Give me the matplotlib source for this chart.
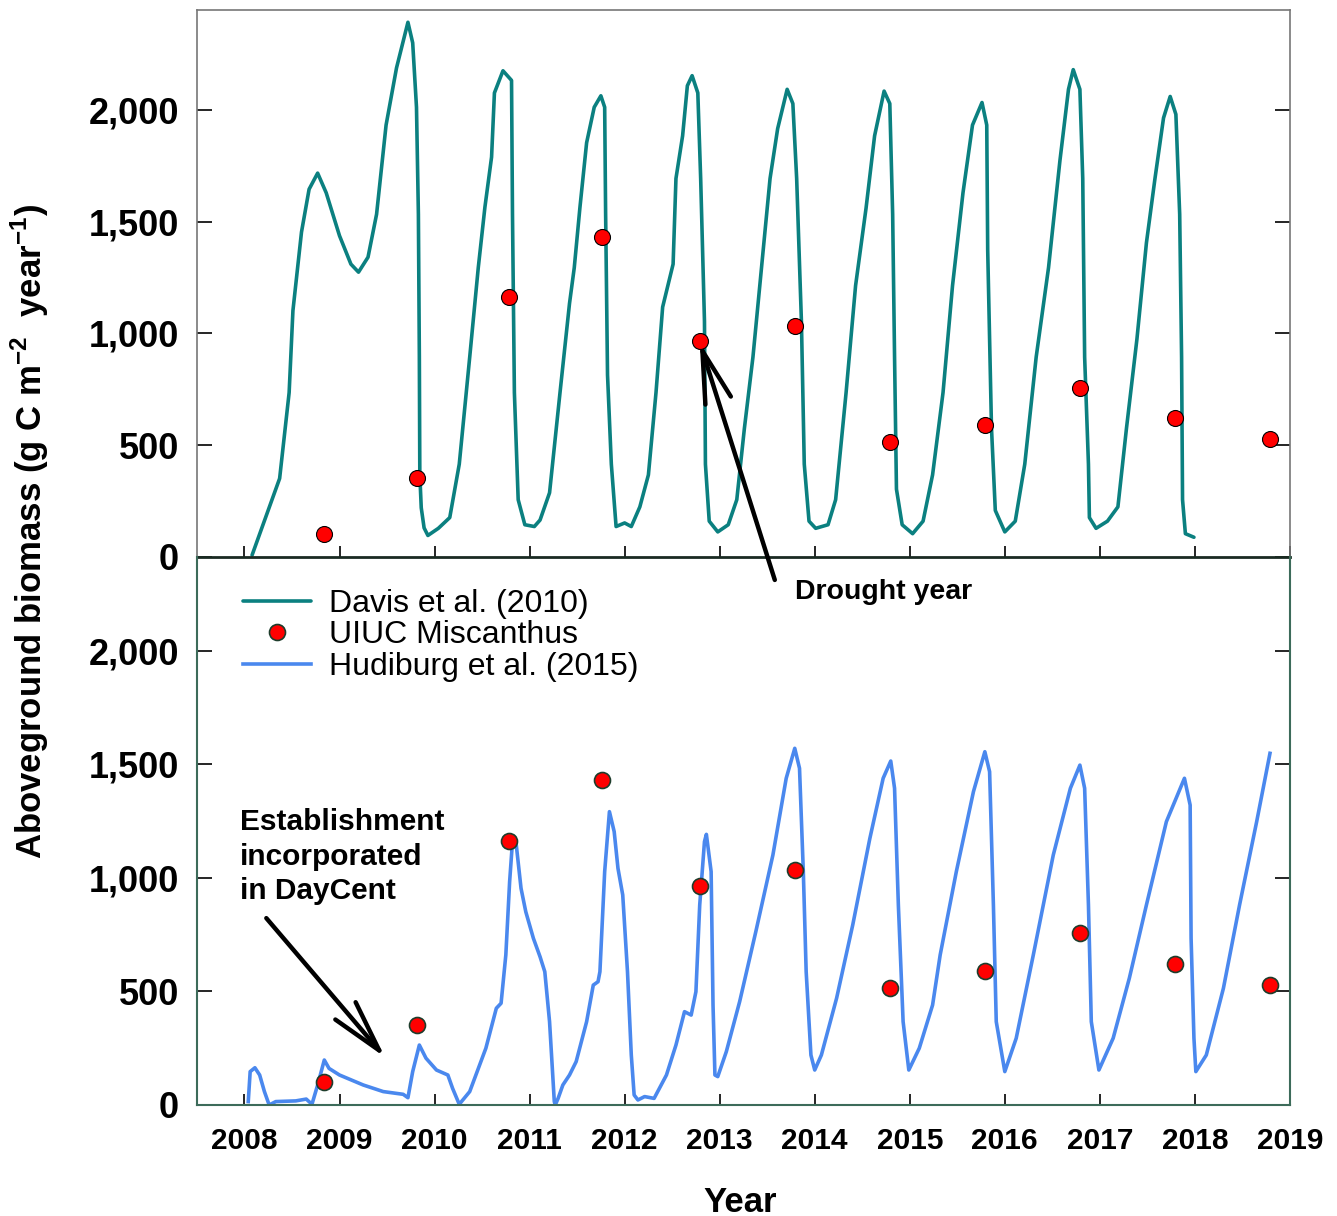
import matplotlib
matplotlib.use("Agg")
import matplotlib.pyplot as plt
from matplotlib.ticker import FuncFormatter

plt.rcParams['font.family'] = ['Liberation Sans', 'DejaVu Sans']
plt.rcParams['mathtext.fontset'] = 'custom'
plt.rcParams['mathtext.rm'] = 'Liberation Sans'
plt.rcParams['mathtext.bf'] = 'Liberation Sans:bold'

# Davis et al. (2010) simulated aboveground biomass
davis_year = [2008.08, 2008.37, 2008.47, 2008.51, 2008.60, 2008.68, 2008.77, 2008.86, 2009.00, 2009.12,
              2009.20, 2009.30, 2009.39, 2009.49, 2009.60, 2009.72, 2009.77, 2009.81, 2009.83, 2009.84,
              2009.845, 2009.86, 2009.89, 2009.93, 2010.04, 2010.16, 2010.26, 2010.37, 2010.46, 2010.53,
              2010.60, 2010.63, 2010.72, 2010.81, 2010.82, 2010.84, 2010.88, 2010.95, 2011.05, 2011.11,
              2011.21, 2011.32, 2011.42, 2011.47, 2011.53, 2011.60, 2011.68, 2011.75, 2011.79, 2011.80,
              2011.82, 2011.86, 2011.91, 2012.00, 2012.07, 2012.16, 2012.25, 2012.33, 2012.40, 2012.51,
              2012.54, 2012.61, 2012.66, 2012.71, 2012.77, 2012.80, 2012.84, 2012.85, 2012.89, 2012.98,
              2013.09, 2013.18, 2013.26, 2013.35, 2013.44, 2013.53, 2013.61, 2013.71, 2013.77, 2013.81,
              2013.86, 2013.89, 2013.94, 2014.01, 2014.14, 2014.22, 2014.33, 2014.43, 2014.54, 2014.63,
              2014.73, 2014.79, 2014.82, 2014.84, 2014.86, 2014.92, 2015.03, 2015.14, 2015.24, 2015.35,
              2015.45, 2015.56, 2015.66, 2015.76, 2015.81, 2015.82, 2015.86, 2015.90, 2016.00, 2016.11,
              2016.21, 2016.33, 2016.46, 2016.58, 2016.67, 2016.72, 2016.79, 2016.82, 2016.84, 2016.88,
              2016.89, 2016.96, 2017.08, 2017.19, 2017.28, 2017.39, 2017.49, 2017.58, 2017.67, 2017.74,
              2017.80, 2017.84, 2017.86, 2017.87, 2017.90, 2017.99]
davis_val = [8, 351, 735, 1102, 1453, 1645, 1717, 1629, 1437, 1310,
             1274, 1341, 1533, 1932, 2188, 2392, 2300, 2012, 1533, 900,
             367, 220, 130, 96, 128, 176, 415, 894, 1294, 1565,
             1789, 2076, 2175, 2132, 1533, 735, 256, 144, 136, 165,
             287, 735, 1134, 1294, 1565, 1853, 2012, 2063, 2012, 1533,
             814, 415, 136, 152, 136, 224, 367, 735, 1118, 1310,
             1693, 1884, 2108, 2153, 2076, 1693, 1054, 415, 160, 112,
             144, 256, 575, 894, 1294, 1693, 1916, 2092, 2028, 1693,
             1054, 415, 160, 128, 144, 256, 735, 1214, 1560, 1884,
             2084, 2028, 1533, 894, 303, 144, 104, 160, 367, 735,
             1214, 1629, 1932, 2033, 1932, 1373, 575, 208, 112, 160,
             415, 894, 1294, 1773, 2092, 2180, 2092, 1693, 894, 415,
             176, 128, 160, 224, 575, 974, 1405, 1693, 1964, 2060,
             1980, 1533, 894, 256, 104, 88]

# Hudiburg et al. (2015) simulated aboveground biomass
hud_year = [2008.04, 2008.06, 2008.11, 2008.16, 2008.21, 2008.26, 2008.33, 2008.54, 2008.65, 2008.71,
            2008.77, 2008.84, 2008.89, 2009.00, 2009.25, 2009.46, 2009.67, 2009.72, 2009.77, 2009.84,
            2009.91, 2010.02, 2010.14, 2010.19, 2010.26, 2010.37, 2010.54, 2010.65, 2010.70, 2010.75,
            2010.79, 2010.82, 2010.86, 2010.91, 2010.96, 2011.04, 2011.11, 2011.16, 2011.21, 2011.26,
            2011.27, 2011.30, 2011.35, 2011.42, 2011.49, 2011.60, 2011.67, 2011.72, 2011.74, 2011.79,
            2011.84, 2011.89, 2011.93, 2011.98, 2012.03, 2012.07, 2012.10, 2012.14, 2012.21, 2012.31,
            2012.44, 2012.54, 2012.63, 2012.70, 2012.75, 2012.79, 2012.84, 2012.86, 2012.91, 2012.93,
            2012.95, 2012.98, 2013.07, 2013.21, 2013.38, 2013.56, 2013.70, 2013.79, 2013.84, 2013.88,
            2013.91, 2013.96, 2014.00, 2014.07, 2014.23, 2014.40, 2014.58, 2014.72, 2014.80, 2014.84,
            2014.88, 2014.93, 2014.99, 2015.10, 2015.24, 2015.32, 2015.49, 2015.67, 2015.79, 2015.84,
            2015.88, 2015.91, 2016.00, 2016.12, 2016.30, 2016.51, 2016.69, 2016.79, 2016.84, 2016.88,
            2016.91, 2016.99, 2017.14, 2017.31, 2017.49, 2017.70, 2017.89, 2017.95, 2017.96, 2017.99,
            2018.01, 2018.12, 2018.30, 2018.47, 2018.65, 2018.79]
hud_val = [15, 147, 164, 132, 59, 0, 15, 18, 26, 3,
           88, 198, 161, 132, 88, 59, 47, 32, 147, 264,
           206, 154, 132, 73, 3, 59, 250, 426, 448, 661,
           984, 1160, 1145, 954, 851, 734, 653, 587, 367, 15,
           0, 29, 88, 132, 191, 367, 528, 543, 587, 1028,
           1292, 1204, 1042, 925, 587, 220, 44, 22, 37, 29,
           132, 264, 411, 396, 499, 881, 1160, 1192, 1028, 440,
           132, 125, 235, 455, 763, 1101, 1439, 1571, 1483, 1028,
           587, 220, 154, 220, 470, 793, 1174, 1439, 1515, 1395,
           881, 367, 154, 250, 440, 661, 1028, 1380, 1556, 1468,
           881, 367, 147, 294, 661, 1101, 1395, 1497, 1395, 881,
           367, 154, 294, 558, 881, 1248, 1439, 1321, 734, 294,
           147, 220, 514, 881, 1248, 1549]

# UIUC Miscanthus observations
obs_year = [2008.84, 2009.82, 2010.78, 2011.76, 2012.79, 2013.79, 2014.79, 2015.79, 2016.79, 2017.79, 2018.79]
obs_val = [103, 353, 1163, 1432, 966, 1034, 515, 590, 756, 622, 528]

year_ticks = list(range(2008, 2020))
y_ticks = [0, 500, 1000, 1500, 2000]

teal = '#0b8080'
blue = '#4a88ee'
frame_green = '#3d6b5a'

fig = plt.figure(figsize=(13.37, 12.16), dpi=100)
ax1 = fig.add_axes([0.1473, 0.542, 0.8175, 0.4498])
ax2 = fig.add_axes([0.1473, 0.0913, 0.8175, 0.4507])
ax1.patch.set_alpha(0)
ax2.patch.set_alpha(0)

l1, = ax1.plot(davis_year, davis_val, color=teal, lw=2.6, solid_joinstyle='round', solid_capstyle='round')
d1, = ax1.plot(obs_year, obs_val, 'o', color='red', mec='black', mew=0.8, ms=11.5, zorder=5)
l2, = ax2.plot(hud_year, hud_val, color=blue, lw=2.6, solid_joinstyle='round')
d2, = ax2.plot(obs_year, obs_val, 'o', color='red', mec='#1e3d2c', mew=1.2, ms=11.5, zorder=5)

fmt = FuncFormatter(lambda v, p: '{:,.0f}'.format(v))
for ax, top in [(ax1, 2447), (ax2, 2414)]:
    ax.set_xlim(2007.5, 2019)
    ax.set_ylim(0, top)
    ax.set_xticks(year_ticks)
    ax.set_yticks(y_ticks)
    ax.yaxis.set_major_formatter(fmt)
    ax.tick_params(axis='y', direction='in', length=11, width=1.2, right=True, pad=13, labelsize=26)
    ax.tick_params(axis='x', direction='in', length=8, width=1.2, pad=16, labelsize=21.5)
    for lab in ax.get_yticklabels() + ax.get_xticklabels():
        lab.set_fontweight('bold')

ax1.tick_params(axis='x', labelbottom=False)
for s in ['top', 'left', 'right']:
    ax1.spines[s].set_color('#777777')
    ax1.spines[s].set_linewidth(1.2)
ax1.spines['bottom'].set_color('#1a2a22')
ax1.spines['bottom'].set_linewidth(2)
for s in ['left', 'right', 'bottom']:
    ax2.spines[s].set_color(frame_green)
    ax2.spines[s].set_linewidth(1.5)
ax2.spines['top'].set_visible(False)

ax2.legend([l1, d2, l2], ['Davis et al. (2010)', 'UIUC Miscanthus', 'Hudiburg et al. (2015)'],
           loc='upper left', bbox_to_anchor=(0.03, 0.965), frameon=False, fontsize=23,
           handlelength=2.15, handletextpad=0.55, labelspacing=0.05, borderaxespad=0)

arrow = dict(arrowstyle='->,head_length=1.25,head_width=0.32', color='black', lw=3.2,
             mutation_scale=30, shrinkA=0, shrinkB=0)
ax1.annotate('', xy=(2012.79, 960), xytext=(2013.58, -103), arrowprops=arrow, annotation_clip=False)
ax1.text(2013.79, -155, 'Drought year', fontsize=20.5, fontweight='bold', ha='left', va='center',
         clip_on=False)

ax2.annotate('', xy=(2009.48, 210), xytext=(2008.23, 823), arrowprops=arrow, annotation_clip=False)
ax2.text(2007.95, 1093, 'Establishment\nincorporated\nin DayCent', fontsize=21.5, fontweight='bold',
         ha='left', va='center', linespacing=1.3)

fig.text(0.0224, 0.563, r'Aboveground biomass (g C m$^{\mathbf{-2}}$  year$^{\mathbf{-1}}$)',
         rotation=90, ha='center', va='center', fontsize=25, fontweight='bold')
fig.text(0.5535, 0.0115, 'Year', ha='center', va='center', fontsize=25, fontweight='bold')

fig.savefig('out.png', dpi=100)
